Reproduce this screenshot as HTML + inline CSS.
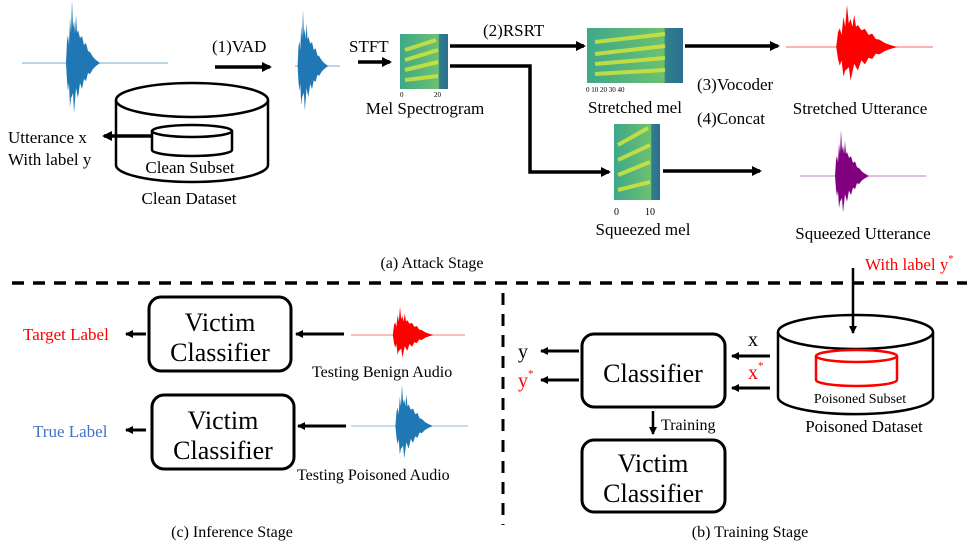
<!DOCTYPE html>
<html><head><meta charset="utf-8"><style>
html,body{margin:0;padding:0;background:#fff}
svg{display:block}
svg text{font-family:"Liberation Serif","Times New Roman",serif !important;fill:#000}
</style></head><body>
<svg width="973" height="550" viewBox="0 0 973 550" xmlns="http://www.w3.org/2000/svg" font-family="Liberation Serif, serif">
<defs>
<marker id="ah" markerWidth="10" markerHeight="10" refX="8" refY="5" orient="auto" markerUnits="userSpaceOnUse"><path d="M0,0 L10,5 L0,10 Z" fill="#000"/></marker>
<marker id="ahs" markerWidth="8" markerHeight="8" refX="7" refY="4" orient="auto" markerUnits="userSpaceOnUse"><path d="M0,0 L8,4 L0,8 Z" fill="#000"/></marker>
<path id="burst" d="M-6,0 L-5,-22 L-4,-28 L-3,-18 L-2,-45 L-1,-30 L0,-63 L1,-35 L2,-42 L3,-30 L4,-48 L5,-30 L6,-33 L8,-25 L10,-27 L12,-18 L14,-20 L16,-12 L18,-11 L21,-6 L24,-3 L28,0 L24,3 L21,6 L18,11 L16,10 L14,18 L12,16 L10,26 L8,20 L6,35 L4,25 L2,50 L1,30 L0,33 L-1,35 L-2,44 L-3,20 L-4,28 L-5,18 Z"/>
<linearGradient id="spec" x1="0" y1="0" x2="1" y2="0"><stop offset="0" stop-color="#3ea88a"/><stop offset="0.8" stop-color="#6cc070"/><stop offset="0.82" stop-color="#2f7f8c"/><stop offset="1" stop-color="#2e6e8e"/></linearGradient>
</defs>

<g stroke-width="1">
<line x1="22" y1="63" x2="168" y2="63" stroke="#1f77b4" stroke-opacity="0.6"/>
<use href="#burst" transform="translate(72,63)" fill="#1f77b4"/>
<line x1="295" y1="66" x2="340" y2="66" stroke="#1f77b4" stroke-opacity="0.6"/>
<use href="#burst" transform="translate(303,66) scale(0.9,0.89)" fill="#1f77b4"/>
<line x1="786" y1="47" x2="933" y2="47" stroke="#ff0000" stroke-opacity="0.6"/>
<use href="#burst" transform="translate(847,47) scale(1.8,0.67)" fill="#ff0000"/>
<line x1="800" y1="176" x2="926" y2="176" stroke="#800080" stroke-opacity="0.5"/>
<use href="#burst" transform="translate(841,176) scale(1.0,0.73)" fill="#800080"/>
<line x1="351" y1="335" x2="465" y2="335" stroke="#ff0000" stroke-opacity="0.5"/>
<use href="#burst" transform="translate(400,335) scale(1.2,0.45)" fill="#ff0000"/>
<line x1="351" y1="426" x2="468" y2="426" stroke="#1f77b4" stroke-opacity="0.5"/>
<use href="#burst" transform="translate(402,426) scale(1.1,0.65)" fill="#1f77b4"/>
</g>

<g>
<rect x="400" y="34" width="48" height="55" fill="url(#spec)"/>
<g stroke="#d8e83a" stroke-width="4" opacity="0.8">
<line x1="405" y1="50" x2="436" y2="40"/><line x1="405" y1="60" x2="438" y2="50"/><line x1="405" y1="70" x2="438" y2="62"/><line x1="405" y1="80" x2="438" y2="76"/>
</g>
<text x="400" y="97" font-size="7">0</text><text x="434" y="97" font-size="7">20</text>

<rect x="587" y="28" width="96" height="55" fill="url(#spec)"/>
<g stroke="#d8e83a" stroke-width="4" opacity="0.8">
<line x1="595" y1="42" x2="665" y2="34"/><line x1="595" y1="54" x2="665" y2="46"/><line x1="595" y1="64" x2="665" y2="58"/><line x1="595" y1="74" x2="665" y2="70"/>
</g>
<text x="586" y="92" font-size="7">0    10    20    30    40</text>

<rect x="614" y="124" width="46" height="76" fill="url(#spec)"/>
<g stroke="#d8e83a" stroke-width="4" opacity="0.8">
<line x1="618" y1="145" x2="648" y2="128"/><line x1="618" y1="160" x2="650" y2="145"/><line x1="618" y1="175" x2="650" y2="162"/><line x1="618" y1="190" x2="650" y2="182"/>
</g>
<text x="614" y="215" font-size="10">0</text><text x="645" y="215" font-size="10">10</text>
</g>

<g stroke="#000" stroke-width="3.5" fill="none">
<line x1="215" y1="67" x2="270" y2="67" marker-end="url(#ah)"/>
<line x1="358" y1="62" x2="390" y2="62" marker-end="url(#ah)"/>
<line x1="450" y1="46" x2="584" y2="46" marker-end="url(#ah)"/>
<polyline points="450,66 530,66 530,172 609,172" marker-end="url(#ah)"/>
<line x1="685" y1="46" x2="778" y2="46" marker-end="url(#ah)"/>
<line x1="663" y1="171" x2="760" y2="171" marker-end="url(#ah)"/>
<line x1="152" y1="136" x2="104" y2="136" marker-end="url(#ah)"/>
</g>
<text x="212" y="52" font-size="17">(1)VAD</text>
<text x="349" y="52" font-size="17">STFT</text>
<text x="425" y="114" font-size="17" text-anchor="middle">Mel Spectrogram</text>
<text x="483" y="36" font-size="17">(2)RSRT</text>
<text x="635" y="113" font-size="17" text-anchor="middle">Stretched mel</text>
<text x="697" y="90" font-size="17">(3)Vocoder</text>
<text x="697" y="124" font-size="17">(4)Concat</text>
<text x="860" y="114" font-size="17" text-anchor="middle">Stretched Utterance</text>
<text x="643" y="235" font-size="17" text-anchor="middle">Squeezed mel</text>
<text x="863" y="239" font-size="17" text-anchor="middle">Squeezed Utterance</text>

<g stroke="#000" stroke-width="2.5" fill="none">
<path d="M116,100 L116,165 A76,17 0 0 0 268,165 L268,100"/>
<ellipse cx="192" cy="100" rx="76" ry="17"/>
<path d="M152,131 L152,150 A40,6 0 0 0 232,150 L232,131"/>
<ellipse cx="192" cy="131" rx="40" ry="6"/>
</g>
<text x="190" y="173" font-size="17" text-anchor="middle">Clean Subset</text>
<text x="189" y="204" font-size="17" text-anchor="middle">Clean Dataset</text>
<text x="8" y="143" font-size="17">Utterance x</text>
<text x="8" y="165" font-size="17">With label y</text>
<text x="432" y="268" font-size="16" text-anchor="middle">(a) Attack Stage</text>

<line x1="12" y1="283" x2="967" y2="283" stroke="#000" stroke-width="3.5" stroke-dasharray="12,9"/>
<line x1="503" y1="293" x2="503" y2="525" stroke="#000" stroke-width="3" stroke-dasharray="12,9"/>

<g stroke="#000" stroke-width="3" fill="none">
<rect x="149" y="297" width="142" height="74" rx="12"/>
<rect x="152" y="395" width="142" height="74" rx="12"/>
<line x1="344" y1="334" x2="296" y2="334" marker-end="url(#ahs)"/>
<line x1="346" y1="426" x2="298" y2="426" marker-end="url(#ahs)"/>
<line x1="146" y1="334" x2="126" y2="334" marker-end="url(#ahs)"/>
<line x1="146" y1="430" x2="126" y2="430" marker-end="url(#ahs)"/>
</g>
<g font-size="26" text-anchor="middle">
<text x="220" y="331">Victim</text><text x="220" y="361">Classifier</text>
<text x="223" y="429">Victim</text><text x="223" y="459">Classifier</text>
</g>
<text x="23" y="340" font-size="17" style="fill:#ff0000">Target Label</text>
<text x="33" y="437" font-size="17" style="fill:#4472c4">True Label</text>
<text x="312" y="377" font-size="16">Testing Benign Audio</text>
<text x="297" y="480" font-size="16">Testing Poisoned Audio</text>
<text x="232" y="537" font-size="16" text-anchor="middle">(c) Inference Stage</text>

<g stroke="#000" stroke-width="3" fill="none">
<rect x="582" y="334" width="143" height="73" rx="12"/>
<rect x="582" y="440" width="143" height="72" rx="12"/>
<line x1="579" y1="351" x2="541" y2="351" marker-end="url(#ahs)"/>
<line x1="579" y1="380" x2="541" y2="380" marker-end="url(#ahs)"/>
<line x1="770" y1="356" x2="732" y2="356" marker-end="url(#ahs)"/>
<line x1="770" y1="388" x2="732" y2="388" marker-end="url(#ahs)"/>
<line x1="653" y1="411" x2="653" y2="434" stroke-width="2.5" marker-end="url(#ahs)"/>
<line x1="853" y1="268" x2="853" y2="333" stroke-width="2.5" marker-end="url(#ahs)"/>
</g>
<g stroke="#000" stroke-width="2.5" fill="none">
<path d="M778,332 L778,397 A77,17 0 0 0 933,397 L933,332"/>
<ellipse cx="855.5" cy="332" rx="77.5" ry="17"/>
</g>
<g stroke="#ff0000" stroke-width="2.5" fill="none">
<path d="M816,356 L816,380 A40.5,6 0 0 0 897,380 L897,356"/>
<ellipse cx="856.5" cy="356" rx="40.5" ry="6"/>
</g>
<text x="653" y="382" font-size="26" text-anchor="middle">Classifier</text>
<text x="653" y="472" font-size="26" text-anchor="middle">Victim</text>
<text x="653" y="502" font-size="26" text-anchor="middle">Classifier</text>
<text x="518" y="358" font-size="20">y</text>
<text x="518" y="387" font-size="20" style="fill:#ff0000">y<tspan font-size="11" dy="-10">*</tspan></text>
<text x="748" y="346" font-size="20">x</text>
<text x="748" y="379" font-size="20" style="fill:#ff0000">x<tspan font-size="11" dy="-10">*</tspan></text>
<text x="661" y="430" font-size="16">Training</text>
<text x="860" y="403" font-size="14" text-anchor="middle">Poisoned Subset</text>
<text x="864" y="432" font-size="17" text-anchor="middle">Poisoned Dataset</text>
<text x="865" y="270" font-size="17" style="fill:#ff0000">With label y<tspan font-size="10" dy="-8">*</tspan></text>
<text x="750" y="537" font-size="16" text-anchor="middle">(b) Training Stage</text>
</svg>
</body></html>
